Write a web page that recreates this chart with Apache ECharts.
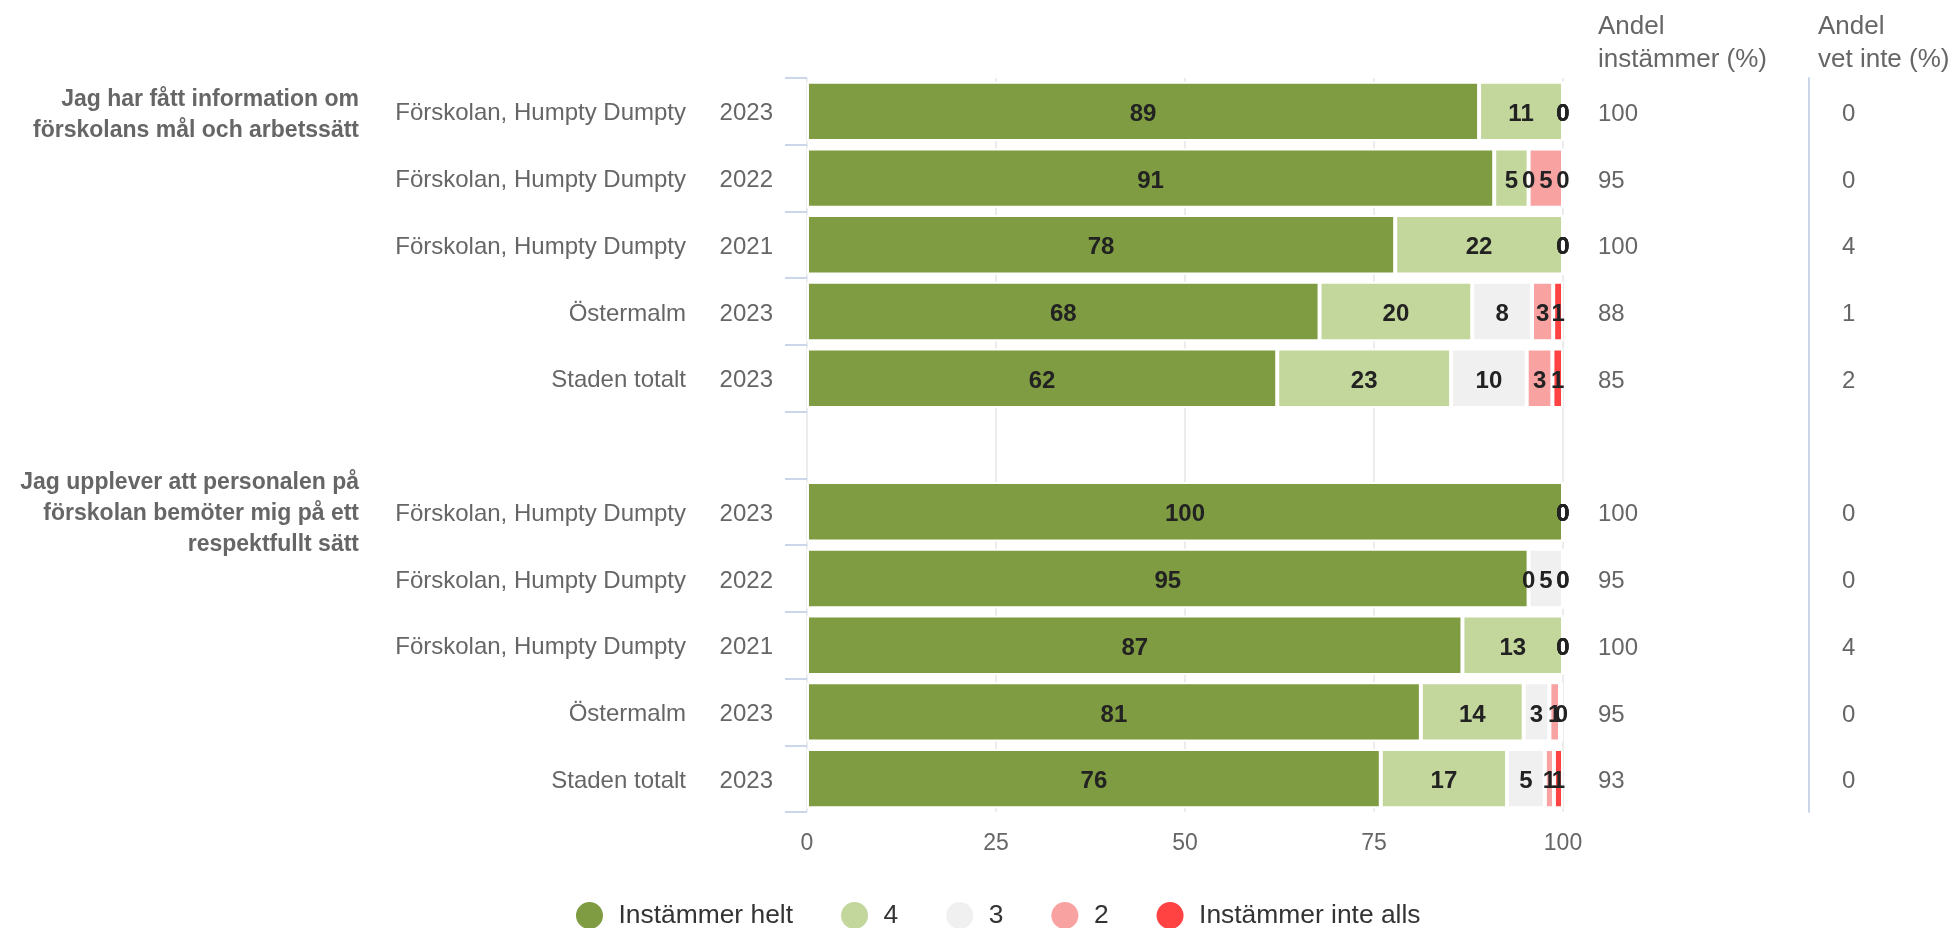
<!DOCTYPE html>
<html>
<head>
<meta charset="utf-8">
<script src="https://cdn.jsdelivr.net/npm/echarts@6/dist/echarts.min.js"></script>
<style>
html,body{margin:0;padding:0;background:#fff;}
#chart{width:1955px;height:928px;}
</style>
</head>
<body>
<div id="chart"></div>
<script>
// ---- Data ----
const rowNames = ['Förskolan, Humpty Dumpty', 'Förskolan, Humpty Dumpty', 'Förskolan, Humpty Dumpty', 'Östermalm', 'Staden totalt', '',
                  'Förskolan, Humpty Dumpty', 'Förskolan, Humpty Dumpty', 'Förskolan, Humpty Dumpty', 'Östermalm', 'Staden totalt'];
const rowYears = ['2023', '2022', '2021', '2023', '2023', '', '2023', '2022', '2021', '2023', '2023'];
const groupTitles = ['Jag har fått information om\nförskolans mål och arbetssätt', '', '', '', '', '',
                     'Jag upplever att personalen på\nförskolan bemöter mig på ett\nrespektfullt sätt', '', '', '', ''];
const seriesNames = ['Instämmer helt', '4', '3', '2', 'Instämmer inte alls'];
const valHelt  = [88.9, 90.9, 77.8, 67.8, 62.2, '-', 100, 95.45, 86.7, 81.2, 75.9];
const val4     = [11.1, 4.55, 22.2, 20.2, 23.0, '-', 0, 0, 13.3, 13.6, 16.7];
const val3     = [0, 0, 0, 7.9, 10.0, '-', 0, 4.55, 0, 3.4, 5.0];
const val2     = [0, 4.55, 0, 2.8, 3.4, '-', 0, 0, 0, 1.4, 1.2];
const valInte  = [0, 0, 0, 1.3, 1.4, '-', 0, 0, 0, 0.4, 1.2];
const andelInstammer = ['100', '95', '100', '88', '85', '', '100', '95', '100', '95', '93'];
const andelVetInte   = ['0', '0', '4', '1', '2', '', '0', '0', '4', '0', '0'];
const xTicks = [0, 25, 50, 75, 100];
const colHeaders = ['Andel\ninstämmer (%)', 'Andel\nvet inte (%)'];

// ---- Styles ----
const FONT = '"Liberation Sans", Arial, sans-serif';
const GRAY = '#666666';
const colors = ['#7f9c42', '#c3d69b', '#f0f0f0', '#f9a2a2', '#ff4343'];
const seriesValues = [valHelt, val4, val3, val2, valInte];
const idx = rowNames.map((_, i) => String(i));

const chart = echarts.init(document.getElementById('chart'), null, {renderer: 'canvas'});

const baseCatAxis = {
  type: 'category', data: idx, inverse: true, gridIndex: 0,
  axisLine: {show: false}, axisTick: {show: false}, splitLine: {show: false}
};

const headerStyle = {fontFamily: FONT, fontSize: 26, fontWeight: 'normal', color: GRAY, lineHeight: 33};
// a small empty leading line nudges a vertically centred label downwards
const spacer = h => ({fontSize: 1, lineHeight: h, width: 0});

const option = {
  animation: false,
  backgroundColor: '#ffffff',
  textStyle: {fontFamily: FONT},
  title: [
    {text: colHeaders[0], left: 1598, top: 10, padding: 0, textStyle: headerStyle},
    {text: colHeaders[1], left: 1818, top: 10, padding: 0, textStyle: headerStyle}
  ],
  legend: {
    data: seriesNames,
    left: 574, top: 900, padding: 0,
    icon: 'circle', itemWidth: 48, itemHeight: 29, itemGap: 46,
    textStyle: {fontFamily: FONT, fontSize: 26.4, color: '#333333', lineHeight: 29},
    selectedMode: false
  },
  grid: {left: 807, right: 392, top: 78, bottom: 116, containLabel: false, outerBoundsMode: 'none'},
  xAxis: {
    type: 'value', min: 0, max: 100, interval: 25,
    axisLine: {show: false}, axisTick: {show: false},
    splitLine: {show: true, lineStyle: {color: '#e6e6e6', width: 1.5}},
    axisLabel: {fontFamily: FONT, fontSize: 23, color: GRAY, margin: 20,
      formatter: v => xTicks.indexOf(v) >= 0 ? String(v) : ''}
  },
  yAxis: [
    Object.assign({}, baseCatAxis, {
      position: 'left',
      axisTick: {show: true, length: 22, lineStyle: {color: '#ccd6eb', width: 2}},
      axisLabel: {
        interval: 0, margin: 34, align: 'right',
        formatter: (v, i) => rowNames[i] === '' ? '' :
          '{s|}\n{n|' + rowNames[i] + '}{y|' + rowYears[i] + '}',
        rich: {
          s: spacer(5),
          n: {fontFamily: FONT, fontSize: 24, color: GRAY, align: 'right', lineHeight: 28},
          y: {fontFamily: FONT, fontSize: 24, color: GRAY, width: 87, align: 'right', lineHeight: 28}
        }
      }
    }),
    Object.assign({}, baseCatAxis, {
      position: 'left', offset: 448,
      axisLabel: {
        interval: 0, margin: 0, align: 'right',
        formatter: (v, i) => groupTitles[i] === '' ? '' :
          '{' + (i === 0 ? 'sa' : 'sb') + '|}\n{g|' + groupTitles[i] + '}',
        rich: {
          sa: spacer(7),
          sb: spacer(3),
          g: {fontFamily: FONT, fontSize: 23, fontWeight: 'bold', color: GRAY, lineHeight: 31, align: 'right'}
        }
      }
    }),
    Object.assign({}, baseCatAxis, {
      position: 'right', offset: 0,
      axisLabel: {
        interval: 0, margin: 35, align: 'left',
        formatter: (v, i) => andelInstammer[i] === '' ? '' : '{s|}\n{v|' + andelInstammer[i] + '}',
        rich: {
          s: spacer(6),
          v: {fontFamily: FONT, fontSize: 24, color: GRAY, lineHeight: 28, align: 'left'}
        }
      }
    }),
    Object.assign({}, baseCatAxis, {
      position: 'right', offset: 246,
      axisLine: {show: true, lineStyle: {color: '#ccd6eb', width: 2}},
      axisLabel: {
        interval: 0, margin: 33, align: 'left',
        formatter: (v, i) => andelVetInte[i] === '' ? '' : '{s|}\n{v|' + andelVetInte[i] + '}',
        rich: {
          s: spacer(6),
          v: {fontFamily: FONT, fontSize: 24, color: GRAY, lineHeight: 28, align: 'left'}
        }
      }
    })
  ],
  series: seriesNames.map((name, k) => ({
    name: name,
    type: 'bar',
    stack: 'total',
    yAxisIndex: 0,
    barCategoryGap: '11%',
    data: seriesValues[k],
    itemStyle: {color: colors[k], borderColor: '#ffffff', borderWidth: 2},
    label: {
      show: true, position: 'inside', offset: [0, 3],
      fontFamily: FONT, fontSize: 24, fontWeight: 'bold', color: '#222222',
      textBorderWidth: 0,
      formatter: p => (p.value === '-' || p.value == null) ? '' : String(Math.round(p.value))
    },
    emphasis: {disabled: true}
  }))
};

chart.setOption(option);
</script>
</body>
</html>
